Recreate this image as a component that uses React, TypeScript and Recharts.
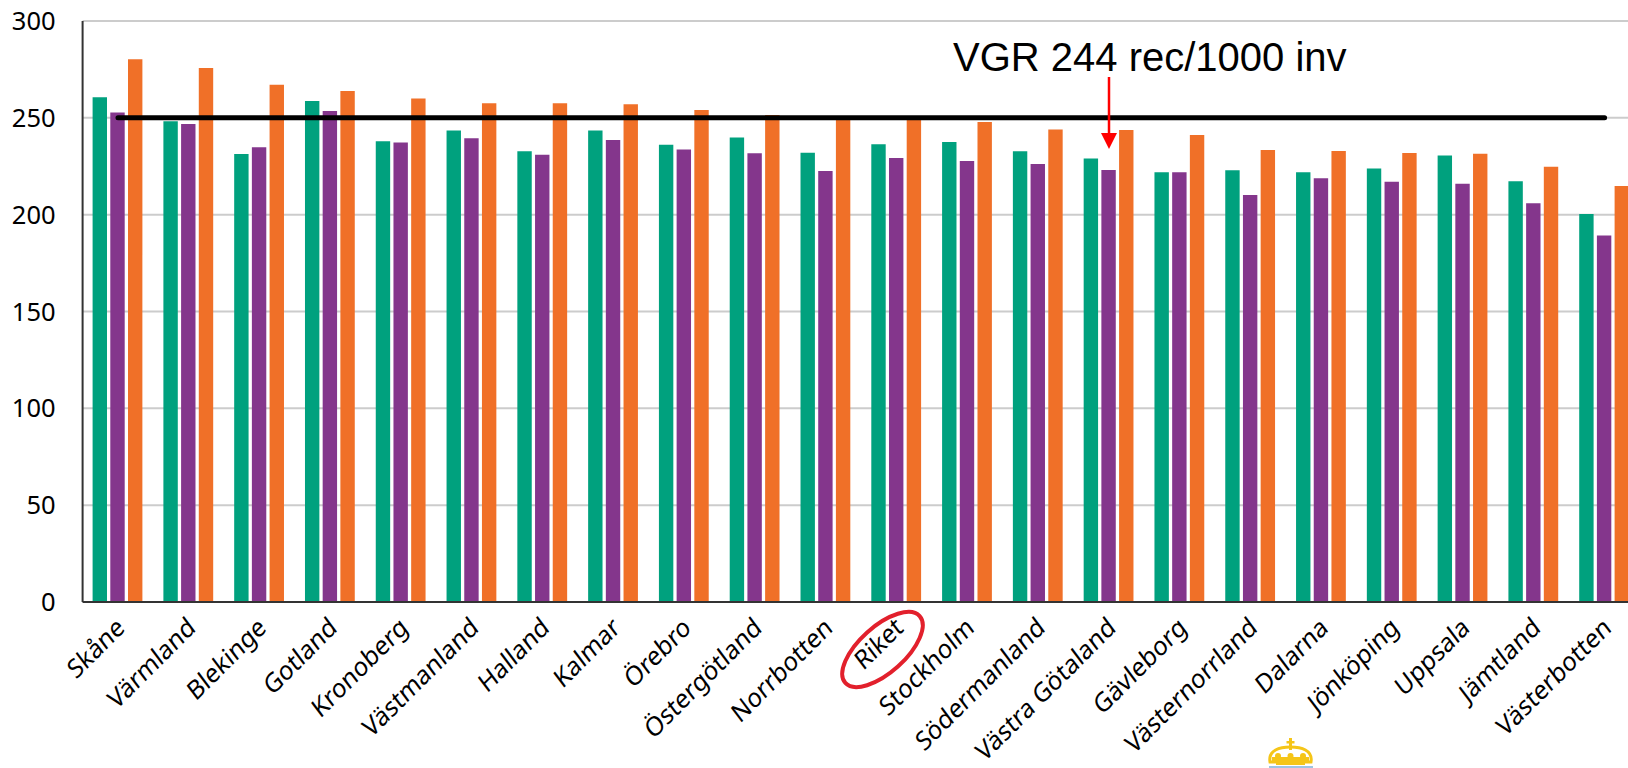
import { Bar, CartesianGrid, ComposedChart, Line, XAxis, YAxis } from 'recharts'

const regions = ['Skåne', 'Värmland', 'Blekinge', 'Gotland', 'Kronoberg', 'Västmanland', 'Halland', 'Kalmar', 'Örebro', 'Östergötland', 'Norrbotten', 'Riket', 'Stockholm', 'Södermanland', 'Västra Götaland', 'Gävleborg', 'Västernorrland', 'Dalarna', 'Jönköping', 'Uppsala', 'Jämtland', 'Västerbotten']
const greenValues = [260.6, 248.2, 231.3, 258.7, 237.9, 243.5, 232.7, 243.5, 236.1, 239.9, 232, 236.3, 237.5, 232.7, 229, 221.9, 222.9, 221.9, 223.8, 230.6, 217.2, 200.3]
const purpleValues = [252.8, 246.8, 234.8, 253.5, 237.3, 239.4, 231, 238.6, 233.6, 231.7, 222.5, 229.3, 227.7, 226.2, 223, 221.9, 210.2, 218.8, 217, 216, 205.9, 189.2]
const orangeValues = [280.2, 275.7, 267.1, 263.9, 260, 257.5, 257.5, 257, 254, 251.5, 250, 250, 247.8, 244, 243.7, 241.1, 233.4, 232.9, 231.8, 231.5, 224.8, 214.8]
const targetValues = [250, 250, 250, 250, 250, 250, 250, 250, 250, 250, 250, 250, 250, 250, 250, 250, 250, 250, 250, 250, 250, 250]
const yTicks = [0, 50, 100, 150, 200, 250, 300]

const tableData = regions.map((region, i) => ({
  region,
  green: greenValues[i],
  purple: purpleValues[i],
  orange: orangeValues[i],
  target: targetValues[i],
}))

const labelFont = '"Noto Sans", sans-serif'

const RegionTick = ({ x, y, payload }: any) => (
  <text
    transform={`translate(${x + 8},${y + 20}) rotate(-45) skewX(-8)`}
    textAnchor="end"
    fontFamily={labelFont}
    fontSize={25}
    fill="#000"
  >
    {payload.value}
  </text>
)

export default function App() {
  return (
    <div style={{ position: 'fixed', left: 0, top: 0, width: 1628, height: 768, overflow: 'hidden', background: '#fff' }}>
      <ComposedChart
        width={1700}
        height={768}
        data={tableData}
        barSize={14.4}
        barGap={3.3}
        margin={{ top: 21, right: 60, bottom: 0, left: 0 }}
      >
        <CartesianGrid horizontal vertical={false} stroke="#cccccc" strokeWidth={2} />
        <XAxis
          dataKey="region"
          interval={0}
          height={166}
          tick={<RegionTick />}
          tickLine={false}
          axisLine={{ stroke: '#333', strokeWidth: 2 }}
        />
        <YAxis
          domain={[0, 300]}
          ticks={yTicks}
          width={82.6}
          tickLine={false}
          axisLine={{ stroke: '#333', strokeWidth: 2 }}
          tick={{ fontFamily: labelFont, fontSize: 25.5, fill: '#000' }}
          tickMargin={21}
        />
        <Bar dataKey="green" fill="#00a17e" isAnimationActive={false} />
        <Bar dataKey="purple" fill="#84368c" isAnimationActive={false} />
        <Bar dataKey="orange" fill="#f07028" isAnimationActive={false} />
        <Line
          dataKey="target"
          stroke="#000"
          strokeWidth={5}
          strokeLinecap="round"
          dot={false}
          activeDot={false}
          isAnimationActive={false}
        />
      </ComposedChart>

      {/* annotations drawn on top of the chart */}
      <svg width={1628} height={768} style={{ position: 'absolute', left: 0, top: 0, pointerEvents: 'none' }}>
        <text x={953} y={71} fontFamily='"Liberation Sans", Arial, sans-serif' fontSize={40} fill="#000">
          VGR 244 rec/1000 inv
        </text>
        <line x1={1109} y1={77} x2={1109} y2={135} stroke="#ff0000" strokeWidth={2.5} />
        <polygon points="1101,133 1117,133 1109,149" fill="#ff0000" />
        <ellipse cx={882.5} cy={649.5} rx={50} ry={23} transform="rotate(-42 882.5 649.5)" fill="none" stroke="#e2202c" strokeWidth={4} />
        {/* crown in the page footer */}
        <g fill="#f5c518">
          <rect x={1289} y={738} width={3} height={12} />
          <rect x={1286.5} y={741} width={8} height={2.5} />
          <path d="M1270 762 C1268 750 1280 747 1290.5 747 C1301 747 1313 750 1311 762 Z" fill="none" stroke="#f5c518" strokeWidth={3} />
          <rect x={1272} y={757} width={37} height={5} />
          <circle cx={1278} cy={756} r={3} />
          <circle cx={1290.5} cy={756} r={3} />
          <circle cx={1303} cy={756} r={3} />
          <rect x={1276} y={762} width={29} height={3} />
        </g>
        <rect x={1269} y={766} width={44} height={2} fill="#9cc4e4" />
      </svg>
    </div>
  )
}
